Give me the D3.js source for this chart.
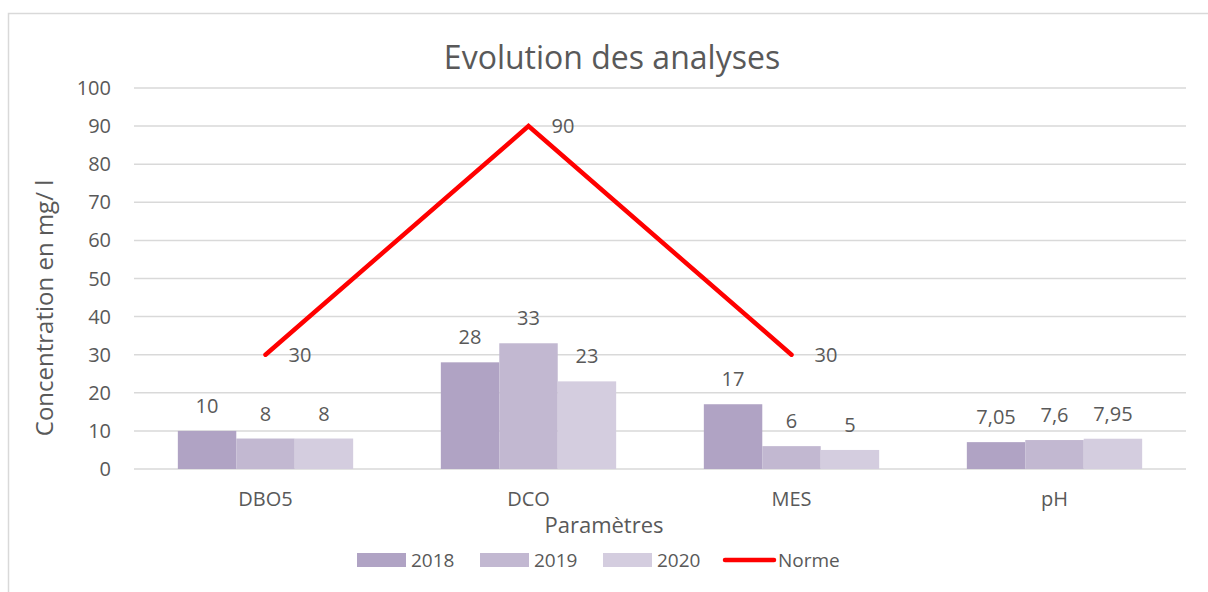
<!DOCTYPE html>
<html><head><meta charset="utf-8">
<script src="https://cdn.jsdelivr.net/npm/d3@7"></script>
<style>body{margin:0;background:#fff;} svg{display:block;} text{font-family:"Open Sans",sans-serif;fill:#595959;}</style>
</head><body><svg id="c" width="1208" height="592"></svg>
<script>
const categories = ["DBO5","DCO","MES","pH"];
const years = ["2018","2019","2020"];
const v2018 = [10, 28, 17, 7.05];
const v2019 = [8, 33, 6, 7.6];
const v2020 = [8, 23, 5, 7.95];
const norme = [30, 90, 30, null];
const yTicks = [0,10,20,30,40,50,60,70,80,90,100];
const colors = ["#b0a3c4","#c2b8d1","#d4cddf"];
const seriesVals = [v2018, v2019, v2020];

const svg = d3.select("#c");
const W=1208,H=592;
const m = {l:134, r:1208-1186, t:88, b:592-469};
const loc = d3.formatLocale({decimal:",",thousands:" ",grouping:[3],currency:["","€"]});
const fmt = loc.format("~r");

svg.append("rect").attr("x",8.5).attr("y",13.5).attr("width",1220).attr("height",600)
  .attr("fill","#fff").attr("stroke","#d9d9d9").attr("stroke-width",1.5);

const x = d3.scaleBand().domain(categories).range([m.l, W-m.r]);
const y = d3.scaleLinear().domain([0,100]).range([H-m.b, m.t]);
// bar group occupies 3 of 4.5 units of each category band (gap width 50%)
const bw = x.bandwidth()/4.5;
const xs = d3.scaleBand().domain(years).range([bw*0.75, bw*3.75]);

svg.append("g").selectAll("line").data(yTicks).join("line")
  .attr("x1",m.l).attr("x2",W-m.r).attr("y1",d=>y(d)).attr("y2",d=>y(d))
  .attr("stroke","#d9d9d9").attr("stroke-width",1.5);

svg.append("g").selectAll("text").data(yTicks).join("text")
  .attr("x",111).attr("y",d=>y(d)).attr("dy","0.35em").attr("text-anchor","end")
  .style("font-size","20px").text(d=>d);

years.forEach((yr,i)=>{
  const g = svg.append("g");
  const dd = categories.map((c,j)=>({c,v:seriesVals[i][j]}));
  g.selectAll("rect").data(dd).join("rect")
    .attr("x",d=>x(d.c)+xs(yr)).attr("width",xs.bandwidth())
    .attr("y",d=>y(d.v)).attr("height",d=>y(0)-y(d.v)).attr("fill",colors[i]);
  g.selectAll("text").data(dd).join("text")
    .attr("x",d=>x(d.c)+xs(yr)+xs.bandwidth()/2).attr("y",d=>y(d.v)-25).attr("dy","0.35em")
    .attr("text-anchor","middle").style("font-size","20px").text(d=>fmt(d.v));
});

const lineData = categories.map((c,j)=>({c,v:norme[j]}));
const line = d3.line().defined(d=>d.v!=null).x(d=>x(d.c)+x.bandwidth()/2).y(d=>y(d.v));
svg.append("path").datum(lineData).attr("d",line).attr("fill","none")
  .attr("stroke","#ff0000").attr("stroke-width",4.5).attr("stroke-linecap","round").attr("stroke-linejoin","miter");
svg.append("g").selectAll("text").data(lineData.filter(d=>d.v!=null)).join("text")
  .attr("x",d=>x(d.c)+x.bandwidth()/2+23).attr("y",d=>y(d.v)).attr("dy","0.35em")
  .style("font-size","20px").text(d=>fmt(d.v));

svg.append("g").selectAll("text").data(categories).join("text")
  .attr("x",d=>x(d)+x.bandwidth()/2).attr("y",499).attr("dy","0.35em").attr("text-anchor","middle")
  .style("font-size","20px").text(d=>d);

svg.append("text").attr("x",612).attr("y",58).attr("dy","0.35em").attr("text-anchor","middle")
  .style("font-size","32px").text("Evolution des analyses");
svg.append("text").attr("x",604).attr("y",525).attr("dy","0.35em").attr("text-anchor","middle")
  .style("font-size","22px").text("Paramètres");
svg.append("text").attr("transform","translate(45,308) rotate(-90)").attr("dy","0.35em").attr("text-anchor","middle")
  .style("font-size","24px").text("Concentration en mg/ l");

const leg = [{k:"2018",t:"bar",c:colors[0],x:357},{k:"2019",t:"bar",c:colors[1],x:480},{k:"2020",t:"bar",c:colors[2],x:603},{k:"Norme",t:"line",c:"#ff0000",x:723}];
const lg = svg.append("g");
leg.forEach(d=>{
  if(d.t==="bar") lg.append("rect").attr("x",d.x).attr("y",553).attr("width",49).attr("height",14).attr("fill",d.c);
  else lg.append("line").attr("x1",d.x+2).attr("x2",d.x+51).attr("y1",560).attr("y2",560).attr("stroke",d.c).attr("stroke-width",4.5).attr("stroke-linecap","round");
  lg.append("text").attr("x",d.x+(d.t==="bar"?54:55)).attr("y",560).attr("dy","0.35em").style("font-size","19px").text(d.k);
});
</script></body></html>
